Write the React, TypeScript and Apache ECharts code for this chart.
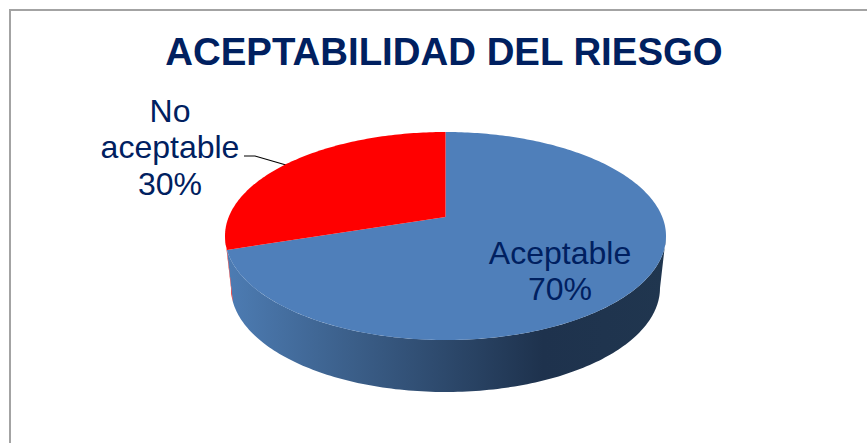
import React, { useEffect, useRef } from "react";
import * as echarts from "echarts";

const categories = ["Aceptable", "No aceptable"];
const values = [70, 30];
const titleText = "ACEPTABILIDAD DEL RIESGO";

const WIDTH = 867;
const HEIGHT = 443;
const NAVY = "#002060";
const FONT = '"Liberation Sans", Arial, sans-serif';
const total = values.reduce((a, b) => a + b, 0);

const topRim = { cx: 445.5, cy: 236, rx: 220.5, ry: 104 };
const bottomRim = { cx: 445.5, cy: 288, rx: 214.5, ry: 104 };
const PERSPECTIVE = -0.183;
// Rim angles at which the wall turns from facing the viewer to facing away.
const FRONT_START = Math.acos(PERSPECTIVE);
const FRONT_END = Math.PI * 2 - FRONT_START;

// Circle-to-ellipse projective mapping; the pie's centre lands above the ellipse's centre.
function project(theta: number, rim: typeof topRim): number[] {
  const u = Math.sin(theta);
  const v = -Math.cos(theta);
  const a = PERSPECTIVE;
  const d = 1 + a * v;
  return [
    rim.cx + (rim.rx * u * Math.sqrt(1 - a * a)) / d,
    rim.cy + (rim.ry * (v + a)) / d,
  ];
}

function arc(start: number, end: number, rim: typeof topRim): number[][] {
  const n = Math.max(8, Math.ceil(((end - start) * 180) / Math.PI));
  const pts: number[][] = [];
  for (let i = 0; i <= n; i++) pts.push(project(start + ((end - start) * i) / n, rim));
  return pts;
}

// Slices run clockwise from 12 o'clock; "Aceptable" first, then "No aceptable".
function sliceAngles(index: number): number[] {
  let before = 0;
  for (let i = 0; i < index; i++) before += values[i];
  return [
    (before / total) * Math.PI * 2,
    ((before + values[index]) / total) * Math.PI * 2,
  ];
}

const wallFills: any[] = [
  new echarts.graphic.LinearGradient(0, 0, 1, 0, [
    { offset: 0, color: "#4d7cb3" },
    { offset: 0.3, color: "#3a5d87" },
    { offset: 0.72, color: "#1e324d" },
    { offset: 1, color: "#20364f" },
  ]),
  "#e00000",
];
const topFills = ["#4f7fba", "#ff0000"];
const labelAnchors = [
  { x: 560, y: 271 },
  { x: 170, y: 147 },
];

function renderWall(params: any, api: any) {
  const [s0, e0] = sliceAngles(params.dataIndex);
  const s = Math.max(s0, FRONT_START);
  const e = Math.min(e0, FRONT_END);
  if (e <= s) return { type: "group", children: [] };
  const pts = arc(s, e, topRim).concat(arc(s, e, bottomRim).reverse());
  return {
    type: "polygon",
    shape: { points: pts },
    style: { fill: wallFills[params.dataIndex] },
    silent: true,
  };
}

function renderTop(params: any, api: any) {
  const i = params.dataIndex;
  const [s, e] = sliceAngles(i);
  const centre = [topRim.cx, topRim.cy + topRim.ry * PERSPECTIVE];
  const pts = [centre].concat(arc(s, e, topRim));
  return {
    type: "polygon",
    shape: { points: pts },
    style: { fill: topFills[i] },
    silent: true,
  };
}

function renderLabel(params: any, api: any) {
  const i = params.dataIndex;
  const name = categories[i].replace(" ", "\n");
  const pct = Math.round((api.value(0) / total) * 100);
  const anchor = labelAnchors[i];
  return {
    type: "text",
    x: anchor.x,
    y: anchor.y,
    style: {
      text: `${name}\n${pct}%`,
      fill: NAVY,
      font: `32px ${FONT}`,
      lineHeight: 36.5,
      align: "center",
      verticalAlign: "middle",
    },
    silent: true,
  };
}

export default function App() {
  const ref = useRef<HTMLDivElement>(null);
  useEffect(() => {
    const chart = echarts.init(ref.current!, undefined, { renderer: "svg" });
    const data = values.map((value, i) => ({ name: categories[i], value }));
    chart.setOption({
      animation: false,
      backgroundColor: "#ffffff",
      title: {
        text: titleText,
        left: 439,
        top: 27,
        textAlign: "center",
        textStyle: {
          color: NAVY,
          fontFamily: FONT,
          fontWeight: "bold",
          fontSize: 38.4,
        },
      },
      graphic: [
        {
          type: "polyline",
          shape: { points: [[10, HEIGHT], [10, 10], [WIDTH, 10]] },
          style: { stroke: "#a3a3a3", lineWidth: 2, fill: "none" },
          silent: true,
        },
        {
          type: "polyline",
          shape: { points: [[244, 156], [255, 156], [286, 165]] },
          style: { stroke: "#000000", lineWidth: 1.2, fill: "none" },
          silent: true,
        },
      ],
      series: [
        { type: "custom", coordinateSystem: "none", z: 1, data, renderItem: renderWall, encode: { value: 0 } },
        { type: "custom", coordinateSystem: "none", z: 2, data, renderItem: renderTop, encode: { value: 0 } },
        { type: "custom", coordinateSystem: "none", z: 3, data, renderItem: renderLabel, encode: { value: 0 } },
      ],
    });
    return () => chart.dispose();
  }, []);
  return (
    <div
      ref={ref}
      style={{ position: "absolute", left: 0, top: 0, width: WIDTH, height: HEIGHT }}
    />
  );
}
